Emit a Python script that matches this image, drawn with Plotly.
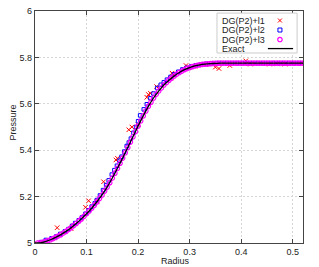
import plotly.graph_objects as go

# ---------------- data ----------------
exact_r = [0.0, 0.01, 0.02, 0.03, 0.04, 0.05, 0.06, 0.07, 0.08, 0.09, 0.10, 0.11, 0.12,
           0.13, 0.14, 0.15, 0.16, 0.17, 0.18, 0.19, 0.20, 0.21, 0.22, 0.23, 0.24, 0.25,
           0.26, 0.27, 0.28, 0.29, 0.30, 0.31, 0.32, 0.33, 0.34, 0.35, 0.36, 0.38, 0.40,
           0.45, 0.50, 0.52]
exact_p = [5.000, 5.001, 5.006, 5.014, 5.024, 5.036, 5.050, 5.066, 5.084, 5.104, 5.126,
           5.150, 5.177, 5.207, 5.241, 5.280, 5.322, 5.366, 5.412, 5.458, 5.504, 5.548,
           5.589, 5.625, 5.655, 5.681, 5.702, 5.720, 5.735, 5.747, 5.756, 5.763, 5.768,
           5.771, 5.773, 5.774, 5.775, 5.775, 5.775, 5.775, 5.775, 5.775]

l1_r = [0.010, 0.043, 0.070, 0.098, 0.104, 0.120, 0.133, 0.157, 0.160, 0.182, 0.188,
        0.200, 0.217, 0.220, 0.224, 0.236, 0.263, 0.266, 0.269, 0.293, 0.310, 0.330,
        0.350, 0.357, 0.378, 0.409, 0.418, 0.440, 0.455, 0.470, 0.485, 0.500, 0.515]
l1_p = [5.000, 5.066, 5.062, 5.154, 5.182, 5.180, 5.264, 5.358, 5.365, 5.488, 5.500,
        5.510, 5.628, 5.640, 5.645, 5.674, 5.710, 5.732, 5.724, 5.765, 5.762, 5.770,
        5.758, 5.752, 5.765, 5.785, 5.771, 5.774, 5.771, 5.772, 5.771, 5.774, 5.775]

l2_r = [0.012, 0.021, 0.032, 0.041, 0.049, 0.058, 0.065, 0.072, 0.078, 0.085, 0.091,
        0.098, 0.104, 0.110, 0.116, 0.120, 0.126, 0.132, 0.138, 0.143, 0.149, 0.154,
        0.159, 0.164, 0.168, 0.173, 0.178, 0.182, 0.186, 0.191, 0.196, 0.200, 0.204,
        0.211, 0.217, 0.224, 0.230, 0.237, 0.244, 0.250, 0.256, 0.263, 0.270, 0.278,
        0.286, 0.294, 0.303, 0.312, 0.322, 0.332, 0.342, 0.352, 0.362, 0.372, 0.382,
        0.392, 0.402, 0.412, 0.422, 0.432, 0.442, 0.452, 0.462, 0.472, 0.482, 0.492,
        0.502, 0.512]
l2_p = [5.004, 5.013, 5.020, 5.028, 5.039, 5.050, 5.060, 5.074, 5.086, 5.098, 5.110,
        5.126, 5.141, 5.157, 5.171, 5.185, 5.205, 5.228, 5.250, 5.270, 5.295, 5.314,
        5.333, 5.355, 5.372, 5.394, 5.418, 5.433, 5.450, 5.475, 5.500, 5.525, 5.550,
        5.576, 5.598, 5.624, 5.644, 5.668, 5.682, 5.693, 5.704, 5.716, 5.727, 5.738,
        5.748, 5.755, 5.761, 5.766, 5.769, 5.772, 5.774, 5.775, 5.775, 5.775, 5.775,
        5.775, 5.775, 5.775, 5.775, 5.775, 5.775, 5.775, 5.775, 5.775, 5.775, 5.775,
        5.775, 5.775]

l3_r = [0.005, 0.010, 0.015, 0.020, 0.025, 0.030, 0.035, 0.040, 0.045, 0.050, 0.055,
        0.060, 0.065, 0.070, 0.075, 0.080, 0.085, 0.090, 0.095, 0.100, 0.105, 0.110,
        0.115, 0.120, 0.125, 0.130, 0.135, 0.140, 0.145, 0.150, 0.155, 0.160, 0.165,
        0.170, 0.175, 0.180, 0.185, 0.190, 0.195, 0.200, 0.205, 0.210, 0.215, 0.220,
        0.225, 0.230, 0.235, 0.240, 0.245, 0.250, 0.255, 0.260, 0.265, 0.270, 0.275,
        0.280, 0.285, 0.290, 0.295, 0.300, 0.305, 0.310, 0.315, 0.320, 0.325, 0.330,
        0.335, 0.340, 0.345, 0.350, 0.355, 0.360, 0.365, 0.370, 0.375, 0.380, 0.385,
        0.390, 0.395, 0.400, 0.405, 0.410, 0.415, 0.420, 0.425, 0.430, 0.435, 0.440,
        0.445, 0.450, 0.455, 0.460, 0.465, 0.470, 0.475, 0.480, 0.485, 0.490, 0.495,
        0.500, 0.505, 0.510, 0.515, 0.520]
l3_p = [5.000, 5.001, 5.003, 5.006, 5.010, 5.014, 5.019, 5.024, 5.030, 5.036, 5.043,
        5.050, 5.058, 5.066, 5.075, 5.084, 5.094, 5.104, 5.115, 5.126, 5.138, 5.150,
        5.163, 5.177, 5.192, 5.207, 5.224, 5.241, 5.260, 5.280, 5.301, 5.322, 5.344,
        5.366, 5.389, 5.412, 5.435, 5.458, 5.481, 5.504, 5.526, 5.548, 5.569, 5.589,
        5.607, 5.625, 5.641, 5.655, 5.668, 5.681, 5.692, 5.702, 5.711, 5.720, 5.728,
        5.735, 5.741, 5.747, 5.752, 5.756, 5.760, 5.763, 5.766, 5.768, 5.770, 5.771,
        5.772, 5.773, 5.774, 5.774, 5.775, 5.775, 5.775, 5.775, 5.775, 5.775, 5.775,
        5.775, 5.775, 5.775, 5.775, 5.775, 5.775, 5.775, 5.775, 5.775, 5.775, 5.775,
        5.775, 5.775, 5.775, 5.775, 5.775, 5.775, 5.775, 5.775, 5.775, 5.775, 5.775,
        5.775, 5.775, 5.775, 5.775, 5.775]

x_ticks = [0, 0.1, 0.2, 0.3, 0.4, 0.5]
x_tick_text = ["0", "0.1", "0.2", "0.3", "0.4", "0.5"]
y_ticks = [5, 5.2, 5.4, 5.6, 5.8, 6]
y_tick_text = ["5", "5.2", "5.4", "5.6", "5.8", "6"]

series_names = ["DG(P2)+l1", "DG(P2)+l2", "DG(P2)+l3", "Exact"]

RED, BLUE, MAG = "#ff0000", "#0000ff", "#ff00ff"
FONT = "Liberation Sans, Arial, Helvetica, sans-serif"

fig = go.Figure()
fig.add_trace(go.Scatter(x=l1_r, y=l1_p, mode="markers", name=series_names[0],
                         marker=dict(symbol="x-thin", size=4.5, color=RED,
                                     line=dict(color=RED, width=1))))
fig.add_trace(go.Scatter(x=l2_r, y=l2_p, mode="markers", name=series_names[1],
                         marker=dict(symbol="square-open", size=3.5, color=BLUE,
                                     line=dict(color=BLUE, width=1))))
fig.add_trace(go.Scatter(x=l3_r, y=l3_p, mode="markers", name=series_names[2],
                         marker=dict(symbol="circle-open", size=4.5, color=MAG,
                                     line=dict(color=MAG, width=1.2))))
fig.add_trace(go.Scatter(x=exact_r, y=exact_p, mode="lines", name=series_names[3],
                         line=dict(color="#000000", width=1.3, shape="spline")))

axis_common = dict(
    showline=True, linecolor="#444444", linewidth=1.2, mirror="ticks",
    ticks="inside", ticklen=4, tickcolor="#444444", tickwidth=1,
    showgrid=True, gridcolor="#d6d6d6", gridwidth=1, griddash="2px,2px",
    zeroline=False, automargin=False,
    tickfont=dict(family=FONT, size=9, color="#222222"),
)

fig.update_layout(
    width=319, height=267,
    margin=dict(l=35, r=16, t=11, b=24),
    paper_bgcolor="white", plot_bgcolor="white",
    showlegend=False,
    xaxis=dict(range=[0, 0.52], tickvals=x_ticks, ticktext=x_tick_text, **axis_common),
    yaxis=dict(range=[5, 6], tickvals=y_ticks, ticktext=y_tick_text, **axis_common),
)

# axis titles
fig.add_annotation(text="Radius", xref="paper", yref="paper", x=0.526, y=-0.077,
                   showarrow=False, xanchor="center", yanchor="middle", borderpad=0,
                   font=dict(family=FONT, size=9, color="#222222"))
fig.add_annotation(text="Pressure", xref="paper", yref="paper", x=-0.082, y=0.519,
                   textangle=-90, showarrow=False, xanchor="center", yanchor="middle",
                   borderpad=0, font=dict(family=FONT, size=9, color="#222222"))

# legend (gnuplot style: text left, key right)
fig.add_shape(type="rect", xref="paper", yref="paper", x0=0.679, x1=0.978,
              y0=0.819, y1=0.991, line=dict(color="#cccccc", width=1),
              fillcolor="white", layer="above")
rows = [0.959, 0.918, 0.877, 0.838]
for name, yy in zip(series_names, rows):
    fig.add_annotation(text=name, xref="paper", yref="paper", x=0.694, y=yy,
                       showarrow=False, xanchor="left", yanchor="middle", borderpad=0,
                       font=dict(family=FONT, size=9, color="#222222"))
kx = 0.914
# red x
fig.add_shape(type="line", xref="paper", yref="paper", xsizemode="pixel", ysizemode="pixel",
              xanchor=kx, yanchor=rows[0], x0=-2, x1=2, y0=-2, y1=2,
              line=dict(color=RED, width=1), layer="above")
fig.add_shape(type="line", xref="paper", yref="paper", xsizemode="pixel", ysizemode="pixel",
              xanchor=kx, yanchor=rows[0], x0=-2, x1=2, y0=2, y1=-2,
              line=dict(color=RED, width=1), layer="above")
# blue square
fig.add_shape(type="rect", xref="paper", yref="paper", xsizemode="pixel", ysizemode="pixel",
              xanchor=kx, yanchor=rows[1], x0=-2, x1=2, y0=-2, y1=2,
              line=dict(color=BLUE, width=1), layer="above")
# magenta circle
fig.add_shape(type="circle", xref="paper", yref="paper", xsizemode="pixel", ysizemode="pixel",
              xanchor=kx, yanchor=rows[2], x0=-2.2, x1=2.2, y0=-2.2, y1=2.2,
              line=dict(color=MAG, width=1.2), layer="above")
# exact line
fig.add_shape(type="line", xref="paper", yref="paper", x0=0.869, x1=0.963,
              y0=rows[3], y1=rows[3], line=dict(color="#000000", width=1.3), layer="above")

fig.write_html("out.html",
               config={"displayModeBar": False, "staticPlot": True},
               post_script="document.body.style.margin='0px';"
                           "document.body.style.overflow='hidden';")
